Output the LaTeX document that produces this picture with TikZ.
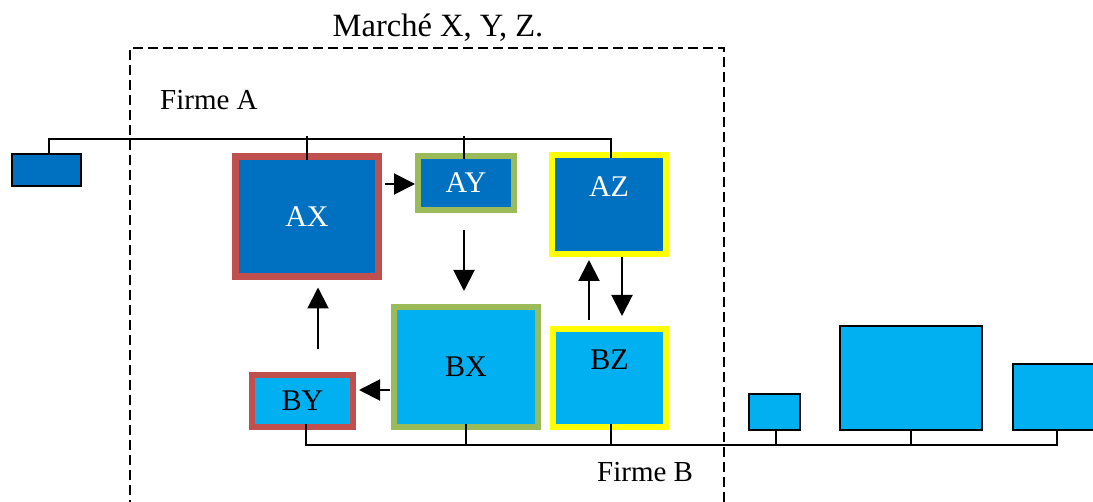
\documentclass[tikz,border=0pt]{standalone}
\usepackage{fontspec}
\setmainfont{Liberation Serif}
\usetikzlibrary{arrows.meta}
\definecolor{dblue}{HTML}{0070C0}
\definecolor{lblue}{HTML}{00B0F0}
\definecolor{bred}{HTML}{C0504D}
\definecolor{bgreen}{HTML}{9BBB59}
\definecolor{byellow}{HTML}{FFFF00}
\tikzset{
  box/.style={inner sep=0pt, outer sep=0pt, font=\fontsize{30}{34}\selectfont},
  boxA/.style={box, fill=dblue, text=white, line width=6.5pt},
  boxB/.style={box, fill=lblue, text=black, line width=6pt},
  plain/.style={box, draw=black, line width=2pt},
  bus/.style={draw=black, line width=2pt},
  arr/.style={draw=black, line width=2pt, -{Triangle[length=21pt,width=21pt]}},
  lbl/.style={font=\fontsize{29}{34}\selectfont, inner sep=0pt},
}
\begin{document}
\begin{tikzpicture}[x=1pt,y=-1pt]
\useasboundingbox (0,0) rectangle (1093,502);
\clip (0,0) rectangle (1093,502);
\fill[white] (0,0) rectangle (1093,502);

% market frame
\draw[line width=2.2pt, dash pattern=on 10pt off 5pt] (130,510) -- (130,48) -- (724,48) -- (724,510);
\node[lbl, font=\fontsize{32.5}{36}\selectfont] (marche) at (438,28) {Marché X, Y, Z.};
\node[lbl, anchor=west] (firmeA) at (160,100) {Firme A};
\node[lbl, anchor=west] (firmeB) at (597,472) {Firme B};

% firm A boxes
\node[plain, fill=dblue, minimum width=69pt, minimum height=32pt] (sa) at (46.5,170) {};
\node[boxA, draw=bred, line width=7pt, minimum width=143pt, minimum height=120pt] (ax) at (307,216.5) {AX};
\node[boxA, draw=bgreen, minimum width=96pt, minimum height=54pt] (ay) at (466,183) {AY};
\node[boxA, draw=byellow, minimum width=114pt, minimum height=99pt,
      label={[lbl, font=\fontsize{30}{34}\selectfont, text=white, yshift=18pt]center:AZ}] (az) at (609,204.5) {};

% firm B boxes
\node[boxB, draw=bgreen, minimum width=144pt, minimum height=120pt] (bx) at (466,367) {BX};
\node[boxB, draw=byellow, minimum width=113pt, minimum height=98pt,
      label={[lbl, font=\fontsize{30}{34}\selectfont, text=black, yshift=18pt]center:BZ}] (bz) at (609.5,378) {};
\node[boxB, draw=bred, minimum width=101pt, minimum height=52pt] (by) at (302.5,401) {BY};
\node[plain, fill=lblue, minimum width=51pt, minimum height=36pt] (r1) at (774.5,412) {};
\node[plain, fill=lblue, minimum width=142pt, minimum height=104pt] (r2) at (911,378) {};
\node[plain, fill=lblue, minimum width=96pt, minimum height=66pt] (r3) at (1061,397) {};

% top bus (firm A)
\coordinate (ta) at (0,136);
\draw[bus] ([xshift=2.5pt]sa.north) |- ([xshift=2pt,yshift=-3.5pt]az.north |- ta) -- ([xshift=2pt,yshift=-3pt]az.north);
\draw[bus] ([yshift=-3.5pt]ax.north) -- (ax.north |- ta);
\draw[bus] ([xshift=-2pt,yshift=-3pt]ay.north) -- ([xshift=-2pt]ay.north |- ta);

% bottom bus (firm B)
\coordinate (tb) at (0,445);
\draw[bus] ([xshift=3.5pt,yshift=3pt]by.south) |- ([xshift=-4pt]r3.south |- tb) -- ([xshift=-4pt]r3.south);
\draw[bus] ([yshift=3pt]bx.south) -- (bx.south |- tb);
\draw[bus] ([xshift=1.5pt,yshift=3pt]bz.south) -- ([xshift=1.5pt]bz.south |- tb);
\draw[bus] ([xshift=1.5pt]r1.south) -- ([xshift=1.5pt]r1.south |- tb);
\draw[bus] (r2.south) -- (r2.south |- tb);

% arrows
\draw[arr] ([xshift=6pt,yshift=-1pt]ax.east |- ay.west) -- ([xshift=-3pt,yshift=-1pt]ay.west);
\draw[arr] ([xshift=-2pt,yshift=-20pt]ay.south) -- ([xshift=-2pt,yshift=16pt]bx.north);
\draw[arr] ([xshift=-20.5pt,yshift=9pt]bz.north) -- ([xshift=-20pt,yshift=-6pt]az.south);
\draw[arr] ([xshift=13pt,yshift=-3pt]az.south) -- ([xshift=12.5pt,yshift=13pt]bz.north);
\draw[arr] ([xshift=15.5pt,yshift=26pt]by.north) -- ([xshift=11pt,yshift=-11pt]ax.south);
\draw[arr] ([xshift=-4pt,yshift=-23pt]bx.west) -- ([xshift=6pt,yshift=11pt]by.east);
\end{tikzpicture}
\end{document}
